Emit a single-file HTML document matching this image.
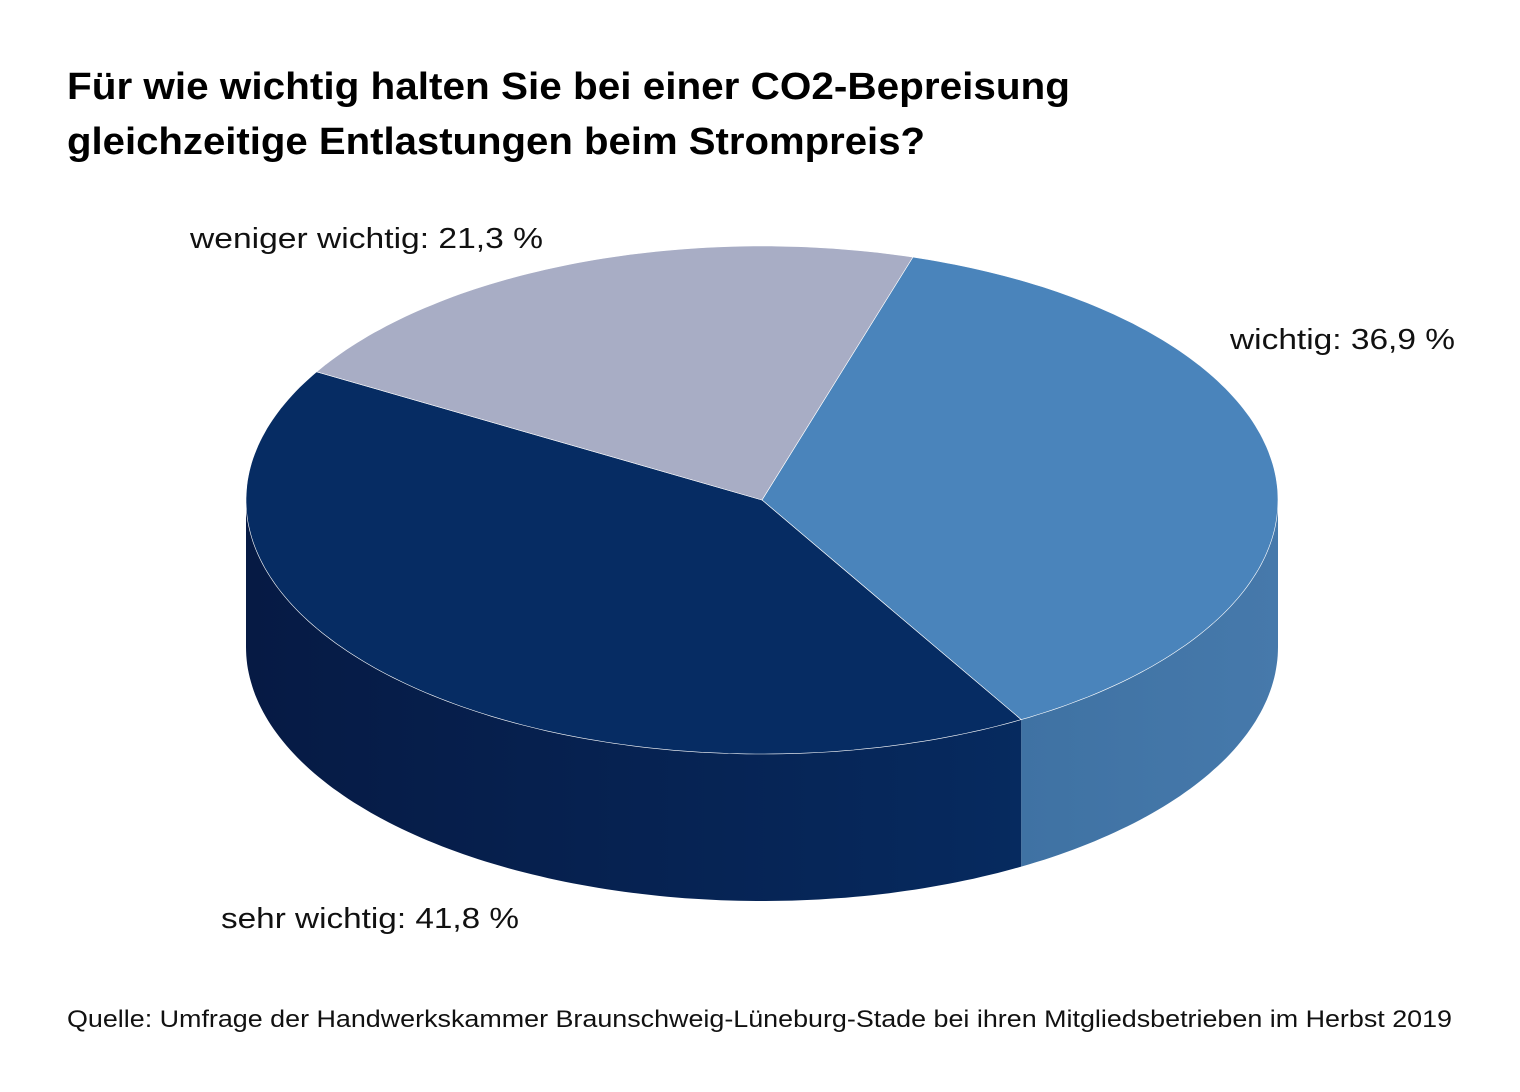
<!DOCTYPE html>
<html><head><meta charset="utf-8"><style>
html,body{margin:0;padding:0;background:#fff;}
svg{display:block;font-family:"Liberation Sans",sans-serif;}
</style></head><body>
<svg id="chart" width="1520" height="1092" viewBox="0 0 1520 1092">
<defs>
<linearGradient id="g0" x1="0" x2="1" y1="0" y2="0"><stop offset="0" stop-color="#3f72a3"/><stop offset="1" stop-color="#4679ab"/></linearGradient>
<linearGradient id="g1" x1="0" x2="1" y1="0" y2="0"><stop offset="0" stop-color="#061a44"/><stop offset="1" stop-color="#062a5f"/></linearGradient>
<linearGradient id="g2" x1="0" x2="1" y1="0" y2="0"><stop offset="0" stop-color="#8e93aa"/><stop offset="1" stop-color="#9ea3bb"/></linearGradient>
</defs>
<text x="67" y="99" font-size="38" font-weight="bold" textLength="1003" lengthAdjust="spacingAndGlyphs">Für wie wichtig halten Sie bei einer CO2-Bepreisung</text>
<text x="67" y="154" font-size="38" font-weight="bold" textLength="858" lengthAdjust="spacingAndGlyphs">gleichzeitige Entlastungen beim Strompreis?</text>
<g id="pie"></g>
<text x="190" y="248" font-size="29" fill="#111" textLength="353" lengthAdjust="spacingAndGlyphs">weniger wichtig: 21,3 %</text>
<text x="1230" y="349" font-size="29" fill="#111" textLength="225" lengthAdjust="spacingAndGlyphs">wichtig: 36,9 %</text>
<text x="221" y="928" font-size="29" fill="#111" textLength="298" lengthAdjust="spacingAndGlyphs">sehr wichtig: 41,8 %</text>
<text x="67" y="1027" font-size="24" fill="#111" textLength="1385" lengthAdjust="spacingAndGlyphs">Quelle: Umfrage der Handwerkskammer Braunschweig-Lüneburg-Stade bei ihren Mitgliedsbetrieben im Herbst 2019</text>
</svg>
<script>
const categories = ["wichtig", "sehr wichtig", "weniger wichtig"];
const values = [36.9, 41.8, 21.3];
const topColors = ["#4a84bb", "#062c63", "#a8adc5"];
const cx = 762, cy = 500, rx = 516, ry = 254, depth = 147, startDeg = -73;
const NS = "http://www.w3.org/2000/svg";
const g = document.getElementById("pie");
function pt(a, dy) { const r = a * Math.PI / 180; return [cx + rx * Math.cos(r), cy + ry * Math.sin(r) + (dy || 0)]; }
function arcPts(a1, a2, dy) { const p = []; const n = Math.max(2, Math.ceil(Math.abs(a2 - a1))); for (let i = 0; i <= n; i++) p.push(pt(a1 + (a2 - a1) * i / n, dy)); return p; }
const total = values.reduce((s, v) => s + v, 0);
const slices = []; let a = startDeg;
values.forEach((v, i) => { const s = v / total * 360; slices.push([a, a + s, i]); a += s; });
// sides
slices.forEach(([a1, a2, i]) => {
  // visible range in [0,180] (mod 360)
  for (const off of [0, 360, -360]) {
    const s = Math.max(a1 + off, 0), e = Math.min(a2 + off, 180);
    if (e > s) {
      const top = arcPts(s, e, 0), bot = arcPts(e, s, depth);
      const p = document.createElementNS(NS, "path");
      p.setAttribute("d", "M" + top.concat(bot).map(q => q[0].toFixed(1) + "," + q[1].toFixed(1)).join("L") + "Z");
      p.setAttribute("fill", "url(#g" + i + ")");
      
      
      g.appendChild(p);
    }
  }
});
// tops
slices.forEach(([a1, a2, i]) => {
  const arc = arcPts(a1, a2, 0);
  const p = document.createElementNS(NS, "path");
  p.setAttribute("d", "M" + cx + "," + cy + "L" + arc.map(q => q[0].toFixed(1) + "," + q[1].toFixed(1)).join("L") + "Z");
  p.setAttribute("fill", topColors[i]);
  p.setAttribute("stroke", "#ffffff");
  p.setAttribute("stroke-width", "0.6");
  
  
  g.appendChild(p);
});
</script>
</body></html>
